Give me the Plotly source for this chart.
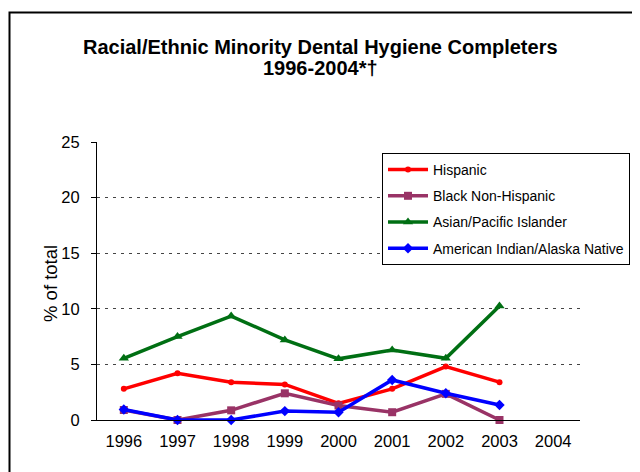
import plotly.graph_objects as go

years = ["1996", "1997", "1998", "1999", "2000", "2001", "2002", "2003", "2004"]
hispanic = [2.8, 4.2, 3.4, 3.2, 1.5, 2.8, 4.8, 3.4, None]
black_non_hispanic = [0.9, 0.0, 0.87, 2.4, 1.3, 0.7, 2.35, 0.0, None]
asian_pacific = [5.55, 7.5, 9.35, 7.2, 5.5, 6.3, 5.55, 10.25, None]
american_indian = [0.95, 0.0, 0.0, 0.8, 0.7, 3.6, 2.4, 1.35, None]
y_ticks = [0, 5, 10, 15, 20, 25]

FONT = "Arial, Liberation Sans, sans-serif"

series = [
    ("Hispanic", hispanic, "#FF0000", "circle", 6),
    ("Black Non-Hispanic", black_non_hispanic, "#993366", "square", 8),
    ("Asian/Pacific Islander", asian_pacific, "#006F13", "triangle-up", 9),
    ("American Indian/Alaska Native", american_indian, "#0000FF", "diamond", 8),
]

fig = go.Figure()
for i, (name, vals, color, sym, size) in enumerate(series):
    fig.add_trace(go.Scatter(
        x=years, y=vals, name=name, mode="lines+markers",
        line=dict(color=color, width=3.5),
        marker=dict(symbol=sym, size=size, color=color),
        cliponaxis=False, legendgroup=f"g{i}", connectgaps=False,
    ))

# page renders figure offset by 8px (body margin); work in screen pixels
OFF = 8
W, H = 640, 472
SX0, SX1, SY0, SY1 = 97, 580, 142, 420  # plot area in screen px
L, R, T, B = SX0 - OFF, W - (SX1 - OFF), SY0 - OFF, H - (SY1 - OFF)
pw, ph = SX1 - SX0, SY1 - SY0

def px_x(px):
    return (px - SX0) / pw

def px_y(py):
    return (SY1 - py) / ph

fig.update_layout(
    width=W, height=H,
    margin=dict(l=L, r=R, t=T, b=B, autoexpand=False),
    paper_bgcolor="white", plot_bgcolor="white",
    font=dict(family=FONT, color="black"),
    showlegend=True,
    legend=dict(
        x=px_x(382), y=px_y(153), xanchor="left", yanchor="top",
        bordercolor="black", borderwidth=1, bgcolor="white",
        font=dict(size=14, family=FONT, color="black"),
        tracegroupgap=5, itemwidth=40,
    ),
    xaxis=dict(
        type="category", range=[-0.5, 8.5],
        showline=True, linecolor="black", linewidth=1,
        ticks="", showgrid=False, zeroline=False,
        tickfont=dict(size=16.5, family=FONT, color="black"),
        ticklabelstandoff=6,
    ),
    yaxis=dict(
        range=[0, 25], tickvals=y_ticks,
        showline=True, linecolor="black", linewidth=1,
        ticks="outside", ticklen=5, tickcolor="black",
        showgrid=True, gridcolor="#444444", gridwidth=1, griddash="3px,5px",
        zeroline=False,
        tickfont=dict(size=16.5, family=FONT, color="black"),
        ticklabelstandoff=8,
    ),
)

fig.add_annotation(
    text="<b>Racial/Ethnic Minority Dental Hygiene Completers</b>",
    xref="paper", yref="paper", x=px_x(320), y=px_y(47),
    xanchor="center", yanchor="middle", showarrow=False,
    font=dict(size=20, family=FONT, color="black"),
)
fig.add_annotation(
    text="<b>1996-2004*†</b>",
    xref="paper", yref="paper", x=px_x(320), y=px_y(68),
    xanchor="center", yanchor="middle", showarrow=False,
    font=dict(size=20, family=FONT, color="black"),
)
fig.add_annotation(
    text="% of total", textangle=-90,
    xref="paper", yref="paper", x=px_x(50), y=px_y(284),
    xanchor="center", yanchor="middle", showarrow=False,
    font=dict(size=18.5, family=FONT, color="black"),
)
# outer frame
fig.add_shape(
    type="rect", xref="paper", yref="paper",
    x0=px_x(9.5), x1=px_x(700), y0=px_y(12.5), y1=px_y(520),
    line=dict(color="black", width=2), fillcolor="rgba(0,0,0,0)", layer="below",
)

fig.write_html("out.html")
